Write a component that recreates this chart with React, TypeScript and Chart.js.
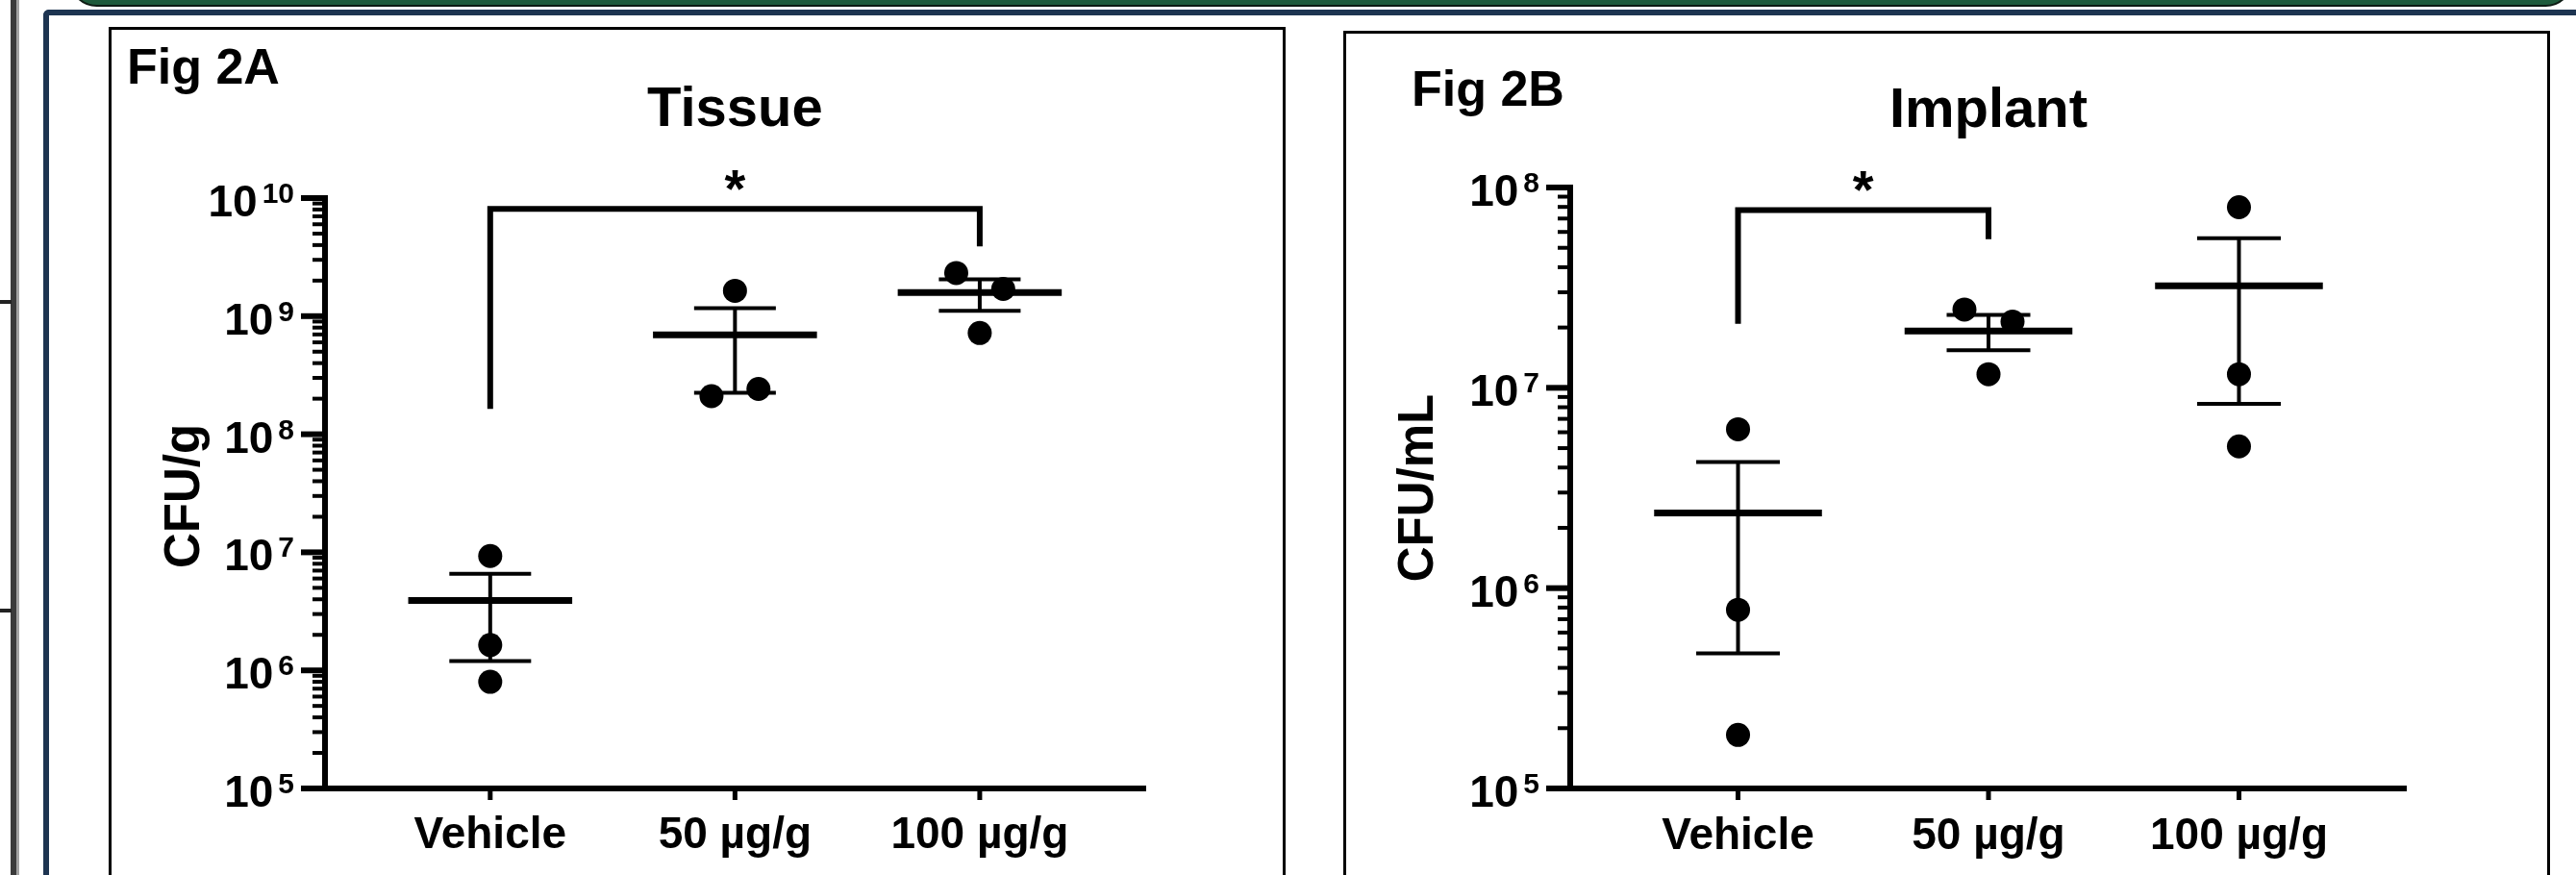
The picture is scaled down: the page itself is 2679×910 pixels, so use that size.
import React, { useEffect, useRef } from "react";
import { Chart, registerables } from "chart.js";

Chart.register(...registerables);

const FONT = '"Liberation Sans", Arial, Helvetica, sans-serif';

// ---------------- Data ----------------
const categories = ["Vehicle", "50 µg/g", "100 µg/g"];

// Fig 2A – Tissue (CFU/g): three animals per group
const tissueVehicle = [9.3e6, 1.64e6, 8.0e5];
const tissue50 = [2.1e8, 1.64e9, 2.42e8];
const tissue100 = [2.32e9, 7.2e8, 1.7e9];
const tissueMean = [3.9e6, 6.95e8, 1.585e9];
const tissueSemHigh = [6.58e6, 1.17e9, 2.05e9];
const tissueSemLow = [1.2e6, 2.24e8, 1.11e9];
const tissueExponents = [5, 6, 7, 8, 9, 10];

// Fig 2B – Implant (CFU/mL)
const implantVehicle = [6.21e6, 7.8e5, 1.85e5];
const implant50 = [2.46e7, 1.17e7, 2.14e7];
const implant100 = [7.97e7, 1.17e7, 5.1e6];
const implantMean = [2.37e6, 1.92e7, 3.23e7];
const implantSemHigh = [4.26e6, 2.31e7, 5.58e7];
const implantSemLow = [4.73e5, 1.54e7, 8.32e6];
const implantExponents = [5, 6, 7, 8];

// horizontal scatter of the dots inside each group (category units)
const tissueSpread = [
  [0, 0, 0],
  [-0.096, 0, 0.096],
  [-0.096, 0, 0.096],
];
const implantSpread = [
  [0, 0, 0],
  [-0.096, 0, 0.096],
  [0, 0, 0],
];

// significance brackets
const tissueBracket = { from: 0, to: 2, top: 8.1e9, fromEnd: 1.64e8, toEnd: 3.9e9, label: "*" };
const implantBracket = { from: 0, to: 1, top: 7.72e7, fromEnd: 2.09e7, toEnd: 5.52e7, label: "*" };

// ---------------- Layout ----------------
const W = 2679;
const H = 910;

type Bracket = typeof tissueBracket;

type PanelCfg = {
  key: string;
  figLabel: string;
  figX: number;
  figY: number;
  title: string;
  titleY: number;
  yTitle: string;
  yTitleX: number;
  yTitleDy: number;
  labelY: number;
  groups: number[][];
  spread: number[][];
  mean: number[];
  semHigh: number[];
  semLow: number[];
  exps: number[];
  bracket: Bracket;
  area: { left: number; top: number; right: number; bottom: number };
  xMin: number;
  xMax: number;
};

const panels: PanelCfg[] = [
  {
    key: "A",
    figLabel: "Fig 2A",
    figX: 132,
    figY: 87,
    title: "Tissue",
    titleY: 131,
    yTitle: "CFU/g",
    yTitleX: 207,
    yTitleDy: 3,
    labelY: 882,
    groups: [tissueVehicle, tissue50, tissue100],
    spread: tissueSpread,
    mean: tissueMean,
    semHigh: tissueSemHigh,
    semLow: tissueSemLow,
    exps: tissueExponents,
    bracket: tissueBracket,
    area: { left: 338, top: 206, right: 1192, bottom: 820 },
    xMin: -0.675,
    xMax: 2.68,
  },
  {
    key: "B",
    figLabel: "Fig 2B",
    figX: 1468,
    figY: 110,
    title: "Implant",
    titleY: 132,
    yTitle: "CFU/mL",
    yTitleX: 1490,
    yTitleDy: 0,
    labelY: 883,
    groups: [implantVehicle, implant50, implant100],
    spread: implantSpread,
    mean: implantMean,
    semHigh: implantSemHigh,
    semLow: implantSemLow,
    exps: implantExponents,
    bracket: implantBracket,
    area: { left: 1633, top: 195, right: 2503, bottom: 820 },
    xMin: -0.67,
    xMax: 2.67,
  },
];

function seg(ctx: CanvasRenderingContext2D, x1: number, y1: number, x2: number, y2: number, w: number) {
  ctx.lineWidth = w;
  ctx.beginPath();
  ctx.moveTo(x1, y1);
  ctx.lineTo(x2, y2);
  ctx.stroke();
}

function makeDecor(p: PanelCfg) {
  return {
    id: "decor" + p.key,
    beforeDatasetsDraw(chart: any) {
      const ctx: CanvasRenderingContext2D = chart.ctx;
      const xs = chart.scales.x;
      const ys = chart.scales.y;
      ctx.save();
      ctx.strokeStyle = "#000";
      ctx.lineCap = "butt";
      for (let i = 0; i < p.mean.length; i++) {
        const cx = xs.getPixelForValue(i);
        const capHalf = xs.getPixelForValue(i + 0.167) - cx;
        const meanHalf = xs.getPixelForValue(i + 0.335) - cx;
        const yHi = ys.getPixelForValue(p.semHigh[i]);
        const yLo = ys.getPixelForValue(p.semLow[i]);
        const yM = ys.getPixelForValue(p.mean[i]);
        seg(ctx, cx, yHi, cx, yLo, 4);
        seg(ctx, cx - capHalf, yHi, cx + capHalf, yHi, 4);
        seg(ctx, cx - capHalf, yLo, cx + capHalf, yLo, 4);
        seg(ctx, cx - meanHalf, yM, cx + meanHalf, yM, 7);
      }
      ctx.restore();
    },
    afterDraw(chart: any) {
      const ctx: CanvasRenderingContext2D = chart.ctx;
      const xs = chart.scales.x;
      const ys = chart.scales.y;
      const area = chart.chartArea;
      const axX = area.left;
      const bottom = area.bottom;
      const minE = p.exps[0];
      const maxE = p.exps[p.exps.length - 1];
      const topY = ys.getPixelForValue(Math.pow(10, maxE));
      ctx.save();
      ctx.strokeStyle = "#000";
      ctx.fillStyle = "#000";
      ctx.lineCap = "butt";

      // axes
      seg(ctx, axX, topY - 3, axX, bottom + 3, 6);
      seg(ctx, axX - 25, bottom, area.right, bottom, 6);

      // y ticks (major + minor)
      for (let e = minE; e <= maxE; e++) {
        const py = ys.getPixelForValue(Math.pow(10, e));
        seg(ctx, axX - 25, py, axX, py, 6);
        if (e < maxE) {
          for (let k = 2; k <= 9; k++) {
            const my = ys.getPixelForValue(k * Math.pow(10, e));
            seg(ctx, axX - 13, my, axX, my, 4);
          }
        }
      }

      // y tick labels 10^n
      ctx.textBaseline = "alphabetic";
      ctx.textAlign = "left";
      const rightX = axX - 32;
      for (const e of p.exps) {
        const py = ys.getPixelForValue(Math.pow(10, e));
        const s = String(e);
        ctx.font = `bold 30px ${FONT}`;
        const sw = ctx.measureText(s).width;
        ctx.fillText(s, rightX - sw, py + 5);
        ctx.font = `bold 46px ${FONT}`;
        const bw = ctx.measureText("10").width;
        ctx.fillText("10", rightX - sw - 5 - bw, py + 19);
      }

      // category ticks and labels
      ctx.textAlign = "center";
      ctx.font = `bold 46px ${FONT}`;
      categories.forEach((c, i) => {
        const cx = xs.getPixelForValue(i);
        seg(ctx, cx, bottom, cx, bottom + 12, 5);
        ctx.fillText(c, cx, p.labelY);
      });

      // y title
      ctx.save();
      ctx.translate(p.yTitleX, (area.top + area.bottom) / 2 + p.yTitleDy);
      ctx.rotate(-Math.PI / 2);
      ctx.font = `bold 51px ${FONT}`;
      ctx.textAlign = "center";
      ctx.fillText(p.yTitle, 0, 0);
      ctx.restore();

      // chart title
      ctx.font = `bold 58px ${FONT}`;
      ctx.textAlign = "center";
      ctx.fillText(p.title, xs.getPixelForValue(1), p.titleY);

      // figure label
      ctx.font = `bold 52px ${FONT}`;
      ctx.textAlign = "left";
      ctx.fillText(p.figLabel, p.figX, p.figY);

      // significance bracket
      const b = p.bracket;
      const xa = xs.getPixelForValue(b.from);
      const xb = xs.getPixelForValue(b.to);
      const yt = ys.getPixelForValue(b.top);
      ctx.lineWidth = 6;
      ctx.lineJoin = "miter";
      ctx.beginPath();
      ctx.moveTo(xa, ys.getPixelForValue(b.fromEnd));
      ctx.lineTo(xa, yt);
      ctx.lineTo(xb, yt);
      ctx.lineTo(xb, ys.getPixelForValue(b.toEnd));
      ctx.stroke();
      ctx.font = `bold 56px ${FONT}`;
      ctx.textAlign = "center";
      const m = ctx.measureText(b.label);
      const starCY = yt - 30;
      const base = starCY + (m.actualBoundingBoxAscent - m.actualBoundingBoxDescent) / 2;
      ctx.fillText(b.label, (xa + xb) / 2, base);

      ctx.restore();
    },
  };
}

function PanelChart({ p }: { p: PanelCfg }) {
  const ref = useRef<HTMLCanvasElement | null>(null);
  useEffect(() => {
    if (!ref.current) return;
    const points: { x: number; y: number }[] = [];
    p.groups.forEach((g, i) => {
      g.forEach((v, j) => points.push({ x: i + p.spread[i][j], y: v }));
    });
    const lo = Math.pow(10, p.exps[0]);
    const hi = Math.pow(10, p.exps[p.exps.length - 1]);
    const chart = new Chart(ref.current, {
      type: "scatter",
      data: {
        datasets: [
          {
            data: points,
            pointRadius: 12.5,
            pointHoverRadius: 12.5,
            pointStyle: "circle",
            backgroundColor: "#000",
            borderColor: "#000",
            borderWidth: 0,
          },
        ],
      },
      options: {
        animation: false,
        responsive: false,
        devicePixelRatio: 1,
        events: [],
        layout: {
          padding: {
            left: p.area.left,
            top: p.area.top,
            right: W - p.area.right,
            bottom: H - p.area.bottom,
          },
        },
        plugins: {
          legend: { display: false },
          tooltip: { enabled: false },
          title: { display: false },
        },
        scales: {
          x: { type: "linear", min: p.xMin, max: p.xMax, bounds: "data", display: false },
          y: { type: "logarithmic", min: lo, max: hi, bounds: "data", display: false },
        },
      },
      plugins: [makeDecor(p)],
    } as any);
    return () => chart.destroy();
  }, [p]);
  return (
    <canvas
      ref={ref}
      width={W}
      height={H}
      style={{ position: "absolute", left: 0, top: 0, width: W, height: H, pointerEvents: "none" }}
    />
  );
}

export default function App() {
  const navy = "#1d3451";
  return (
    <div
      style={{
        position: "fixed",
        left: 0,
        top: 0,
        width: W,
        height: H,
        overflow: "hidden",
        background: "#fff",
      }}
    >
      {/* green banner edge at top */}
      <div
        style={{
          position: "absolute",
          left: 72,
          top: -50,
          width: 2604,
          height: 57,
          background: "#1e5a3b",
          border: "2px solid #0d1a13",
          borderRadius: 30,
          boxSizing: "border-box",
        }}
      />
      {/* left frame bars */}
      <div style={{ position: "absolute", left: 11, top: 0, width: 6, height: H, background: "#3b3b3b" }} />
      <div style={{ position: "absolute", left: 17, top: 0, width: 3, height: H, background: "#a3a3a3" }} />
      <div style={{ position: "absolute", left: 0, top: 312, width: 12, height: 4, background: "#222" }} />
      <div style={{ position: "absolute", left: 0, top: 633, width: 12, height: 4, background: "#222" }} />
      {/* navy frame */}
      <div
        style={{
          position: "absolute",
          left: 45,
          top: 10,
          width: 3000,
          height: 1200,
          borderTop: `6px solid ${navy}`,
          borderLeft: `6px solid ${navy}`,
          borderTopLeftRadius: 6,
          boxSizing: "border-box",
        }}
      />
      {/* panel boxes */}
      <div
        style={{
          position: "absolute",
          left: 113,
          top: 28,
          width: 1224,
          height: 1000,
          border: "3px solid #000",
          boxSizing: "border-box",
        }}
      />
      <div
        style={{
          position: "absolute",
          left: 1397,
          top: 32,
          width: 1255,
          height: 1000,
          border: "3px solid #000",
          boxSizing: "border-box",
        }}
      />
      {panels.map((p) => (
        <PanelChart key={p.key} p={p} />
      ))}
    </div>
  );
}
